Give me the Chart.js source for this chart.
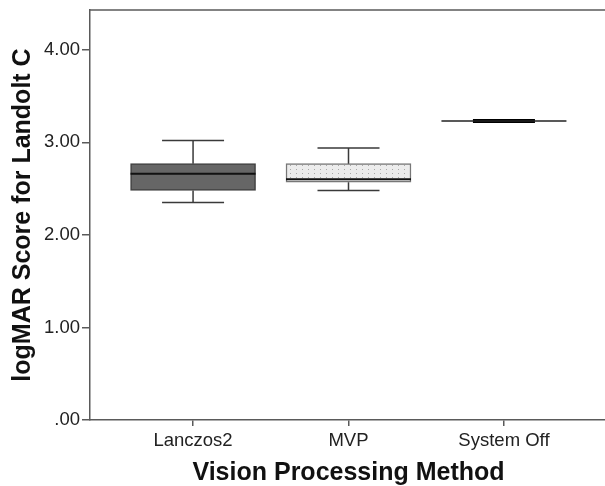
<!DOCTYPE html>
<html>
<head>
<meta charset="utf-8">
<script src="https://cdn.jsdelivr.net/npm/chart.js@4"></script>
<style>
  html, body { margin: 0; padding: 0; background: #fff; overflow: hidden; }
  #wrap { width: 607px; height: 486px; }
</style>
</head>
<body>
<div id="wrap"><canvas id="boxChart" width="607" height="486"></canvas></div>
<script>
// Box plot of logMAR scores per processing method

const categories = ['Lanczos2', 'MVP', 'System Off'];
const whiskerLow = [2.35, 2.48, 3.23];
const q1 = [2.48, 2.57, 3.23];
const median = [2.66, 2.60, 3.23];
const q3 = [2.77, 2.77, 3.23];
const whiskerHigh = [3.02, 2.94, 3.23];
const yTickLabels = ['.00', '1.00', '2.00', '3.00', '4.00'];

const axisColor = '#5a5a5a';
const textColor = '#222';
const fontFamily = 'Arial, "Liberation Sans", sans-serif';

// dotted fill for the MVP box
function dotPattern() {
  const p = document.createElement('canvas');
  p.width = 6; p.height = 4;
  const c = p.getContext('2d');
  c.fillStyle = '#ececec';
  c.fillRect(0, 0, 6, 4);
  c.fillStyle = '#a8a8a8';
  c.fillRect(2, 1, 1, 1);
  return c.createPattern(p, 'repeat');
}

const boxFills = ['#666666', dotPattern(), '#dddddd'];
const boxBorders = ['#404040', '#777', '#444'];

// whiskers, caps, medians and the top frame line
const boxPlugin = {
  id: 'boxParts',
  afterDatasetsDraw(chart) {
    const { ctx, scales: { x, y }, chartArea } = chart;
    const boxW = 125, capW = 62;
    ctx.save();
    ctx.strokeStyle = axisColor;
    ctx.lineWidth = 1.5;
    ctx.beginPath();
    ctx.moveTo(chartArea.left, chartArea.top);
    ctx.lineTo(chartArea.right, chartArea.top);
    ctx.stroke();

    categories.forEach((cat, i) => {
      const cx = x.getPixelForValue(i);
      const flat = q1[i] === q3[i];
      ctx.strokeStyle = '#3a3a3a';
      ctx.lineWidth = 1.5;
      ctx.beginPath();
      ctx.moveTo(cx, y.getPixelForValue(q3[i]));
      ctx.lineTo(cx, y.getPixelForValue(whiskerHigh[i]));
      ctx.moveTo(cx, y.getPixelForValue(q1[i]));
      ctx.lineTo(cx, y.getPixelForValue(whiskerLow[i]));
      ctx.stroke();

      ctx.lineWidth = flat ? 4 : 1.5;
      ctx.strokeStyle = flat ? '#000' : '#3a3a3a';
      ctx.beginPath();
      [whiskerHigh[i], whiskerLow[i]].forEach(v => {
        const py = y.getPixelForValue(v);
        ctx.moveTo(cx - capW / 2, py);
        ctx.lineTo(cx + capW / 2, py);
      });
      ctx.stroke();

      ctx.lineWidth = flat ? 1.5 : 2;
      ctx.strokeStyle = flat ? '#222' : '#111';
      ctx.beginPath();
      const my = y.getPixelForValue(median[i]);
      ctx.moveTo(cx - boxW / 2, my);
      ctx.lineTo(cx + boxW / 2, my);
      ctx.stroke();
    });
    ctx.restore();
  }
};

new Chart(document.getElementById('boxChart'), {
  type: 'bar',
  data: {
    datasets: [{
      data: categories.map((c, i) => ({ x: i, y: [q1[i], q3[i]] })),
      backgroundColor: boxFills,
      borderColor: boxBorders,
      borderWidth: 1.5,
      borderSkipped: false,
      barThickness: 125,
    }]
  },
  options: {
    responsive: false,
    animation: false,
    layout: { padding: { top: 10, left: 0, right: 0, bottom: 0 } },
    plugins: { legend: { display: false }, tooltip: { enabled: false } },
    scales: {
      x: {
        type: 'linear',
        offset: false,
        min: -0.663,
        max: 2.663,
        afterBuildTicks: s => { s.ticks = categories.map((c, i) => ({ value: i })); },
        afterFit: s => { s.height = 66; s.paddingLeft = 0; s.paddingRight = 0; },
        grid: { offset: false, drawOnChartArea: false, drawTicks: true, tickLength: 6, color: axisColor, lineWidth: 1.5 },
        border: { color: axisColor, width: 1.5 },
        ticks: {
          color: textColor,
          padding: 4,
          maxRotation: 0,
          font: { family: fontFamily, size: 18.5 },
          callback: v => categories[v]
        },
        title: {
          display: true,
          text: 'Vision Processing Method',
          color: '#111',
          padding: { top: 0, bottom: 0 },
          font: { family: fontFamily, size: 25, weight: 'bold', lineHeight: 1 }
        }
      },
      y: {
        min: 0,
        max: 4.43,
        afterBuildTicks: s => { s.ticks = yTickLabels.map((t, i) => ({ value: i })); },
        afterFit: s => { s.width = 90; s.paddingTop = 0; s.paddingBottom = 0; },
        grid: { drawOnChartArea: false, drawTicks: true, tickLength: 8, color: axisColor, lineWidth: 1.5 },
        border: { color: axisColor, width: 1.5 },
        ticks: {
          color: textColor,
          padding: 2,
          font: { family: fontFamily, size: 18.5 },
          callback: v => yTickLabels[v]
        },
        title: {
          display: true,
          text: 'logMAR Score for Landolt C',
          color: '#111',
          padding: { top: 11, bottom: 0 },
          font: { family: fontFamily, size: 25, weight: 'bold', lineHeight: 1 }
        }
      }
    }
  },
  plugins: [boxPlugin]
});
</script>
</body>
</html>
